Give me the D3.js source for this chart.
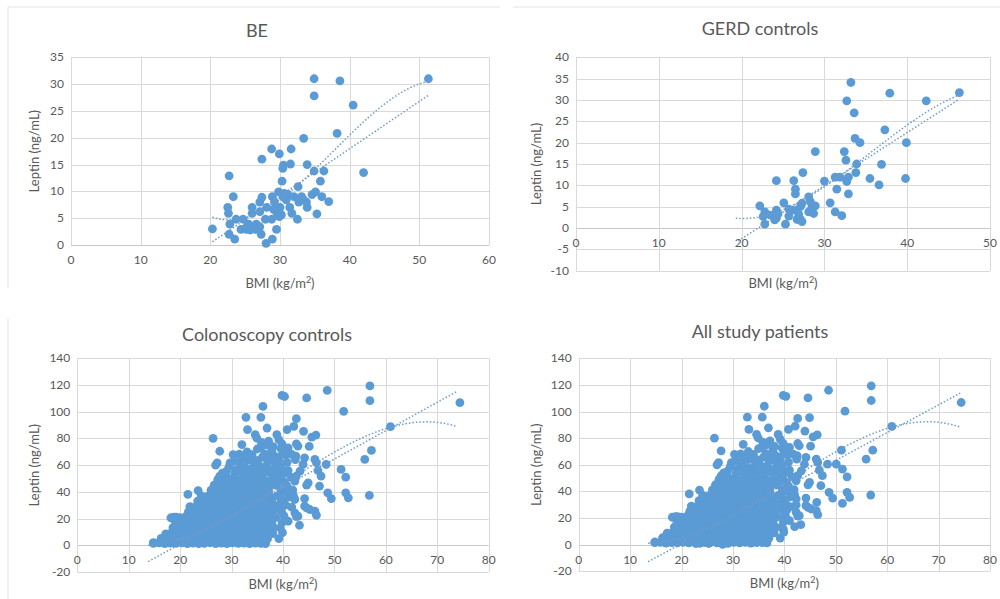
<!DOCTYPE html>
<html>
<head>
<meta charset="utf-8">
<script src="https://cdn.jsdelivr.net/npm/d3@7"></script>
<style>
  body { margin: 0; background: #fff; }
  svg text { font-family: Lato, "Open Sans", sans-serif; fill: #595959; }
</style>
</head>
<body>
<svg id="chart" width="1000" height="599"></svg>
<script>
// tick labels
var beXTicks = [0, 10, 20, 30, 40, 50, 60],
    beYTicks = [0, 5, 10, 15, 20, 25, 30, 35],
    gerdXTicks = [0, 10, 20, 30, 40, 50],
    gerdYTicks = [-10, -5, 0, 5, 10, 15, 20, 25, 30, 35, 40],
    bigXTicks = [0, 10, 20, 30, 40, 50, 60, 70, 80],
    bigYTicks = [-20, 0, 20, 40, 60, 80, 100, 120, 140];

// [BMI, leptin]
var beData = [[20.3,3.0],[22.7,12.9],[22.5,7.0],[22.6,5.9],[22.8,3.9],[22.7,2.0],[23.3,9.0],[23.5,1.1],[23.7,4.8],
  [24.7,4.8],[24.4,2.9],[25.2,2.9],[25.5,3.9],[25.7,2.8],[26.0,7.0],[26.0,5.9],[26.2,3.4],[26.6,3.9],[27.1,3.4],
  [27.1,6.2],[27.3,2.0],[27.4,16.0],[27.4,8.9],[27.1,8.0],[28.0,0.3],[27.9,4.8],[28.1,7.0],[28.8,17.9],[28.9,9.0],
  [28.8,4.8],[28.9,1.1],[29.2,8.0],[29.5,2.9],[29.5,6.4],[29.6,5.9],[29.8,9.9],[29.9,17.0],[29.9,5.3],[30.0,7.0],
  [30.3,11.9],[30.4,9.0],[30.4,14.3],[30.5,14.9],[30.7,8.9],[30.9,8.4],[31.1,9.5],[31.4,7.0],[31.5,15.1],[31.6,17.9],
  [31.7,5.9],[32.0,9.0],[32.5,4.8],[32.6,10.9],[32.7,8.0],[33.1,9.0],[33.4,19.9],[33.4,8.4],[33.8,8.0],[33.9,7.0],
  [33.9,15.0],[34.6,9.4],[34.9,31.0],[34.9,27.8],[34.9,13.8],[35.1,9.9],[35.3,5.8],[35.8,11.9],[36.0,9.0],[36.3,13.8],
  [37.0,8.1],[38.2,20.8],[38.6,30.6],[40.5,26.1],[42.0,13.5],[51.3,31.0],[30.6,9.6],[31.0,9.2],[29.9,6.0],[30.2,5.6],
  [25.0,3.0],[25.8,3.2],[26.3,3.0],[29.1,6.6],[25.3,3.5],[26.5,2.9]];

var gerdData = [[22.2,5.2],[22.8,3.8],[22.6,2.7],[22.8,0.9],[24.2,11.1],[24.2,4.2],[24.4,3.3],[24.2,2.3],[24.0,1.9],
  [25.1,5.9],[25.3,0.9],[25.7,2.8],[26.3,11.1],[26.5,9.1],[26.5,8.0],[26.1,4.2],[26.7,4.2],[27.1,5.0],[27.3,5.8],
  [26.7,2.0],[27.1,2.0],[27.3,1.5],[25.7,4.4],[27.4,13.0],[28.1,7.3],[28.3,6.2],[28.5,5.0],[28.1,3.8],[28.7,3.4],
  [28.9,5.2],[28.9,17.9],[30.0,11.0],[30.7,5.9],[31.3,11.9],[31.5,9.1],[31.3,3.8],[31.9,11.9],[32.1,2.9],[32.4,17.9],
  [32.6,15.9],[32.7,10.9],[32.9,11.9],[32.9,8.0],[32.7,29.8],[33.2,34.1],[33.6,27.0],[33.7,21.0],[34.3,20.0],
  [33.9,15.0],[33.8,13.0],[35.5,11.6],[36.9,14.9],[36.6,10.1],[37.3,23.0],[37.9,31.6],[39.9,20.0],[39.8,11.6],
  [42.3,29.8],[46.3,31.7],[23.5,3.0],[26.9,3.2]];

// colonoscopy controls: scattered points
var colonoOutliers = [[56.9,119.3],[56.9,108.3],[48.6,116],[44.6,110.3],[39.8,112.2],[40.3,111.4],[36.1,104],
  [32.8,95.8],[35.7,95.8],[42.6,94.8],[51.8,100.3],[60.9,88.8],[74.4,106.8],[33.1,86.6],[36.9,87.8],[40.8,86.6],
  [42.1,89],[44.0,85.3],[26.4,80],[34.6,82.8],[34.9,80.3],[38.8,82.8],[39.2,79.1],[45.6,81],[46.4,82.5],[32.0,75.4],
  [35.6,72.9],[38.1,73.9],[42.6,76],[42.9,74.3],[45.1,74],[27.7,70.4],[30.3,67.9],[37.2,67.9],[38.2,66.7],[41.7,68],
  [42.5,66.8],[44.2,65.5],[42.4,64.2],[33.6,64.2],[57.2,71],[55.9,64.3],[43.9,60.5],[46.2,64.3],[46.5,61.8],
  [48.4,60.5],[27.2,61.7],[26.9,60],[29.7,61.7],[31.6,61.7],[43.3,55.5],[46.8,56],[47.4,51.8],[51.3,56.8],[52.2,51],
  [42.6,51.8],[42.3,48],[44.9,46.8],[44.6,45],[47.1,44.3],[48.7,39.3],[49.4,35],[52.2,39.3],[52.7,35.5],[56.8,37.3],
  [42,37.5],[42.3,34.3],[44.2,35],[44.2,29.3],[45.2,26.8],[46.2,25.5],[46.5,22.5],[44.6,28],[42.3,24.3],[42.9,21.8],
  [43.2,15],[41.7,28.5],[39.9,9.5],[36.6,2],[14.8,2],[21.5,38.1],[23.5,41],[18.2,20.6],[19.2,21.1],[27.7,51.7],
  [29.0,55.5],[41.9,41.4],[40.4,40.2],[42.6,21.5],[40.5,30],[41.0,18],[40.0,48],[39.5,58],[41.0,56],[38.5,62],
  [40.0,70],[36.5,75],[38.8,45],[39.6,35]];

// colonoscopy controls: the dense cloud
var colonoCloud = [
  [14.8,1.5],[15.9,1.8],[17.0,1.2],[18.1,1.6],[19.2,1.4],[20.3,1.8],[21.4,1.3],[22.5,1.7],[23.6,1.2],[24.7,1.5],
  [25.8,1.9],[26.9,1.3],[28.0,1.6],[29.1,1.2],[30.2,1.8],[31.3,1.4],[32.4,1.7],[33.5,1.2],[34.6,1.6],[35.7,1.5],[36.6,1.3],
  [16.3,5.2],[17.4,4.8],[18.5,5.5],[19.6,4.9],[20.7,5.3],[21.8,4.7],[22.9,5.4],[24.0,5.0],[25.1,5.6],[26.2,4.8],
  [27.3,5.3],[28.4,5.1],[29.5,4.7],[30.6,5.5],[31.7,5.0],[32.8,5.3],[33.9,4.8],[35.0,5.4],[36.1,5.1],[37.0,4.9],
  [17.2,8.6],[18.3,9.3],[19.4,8.8],[20.5,9.1],[21.6,8.5],[22.7,9.4],[23.8,8.9],[24.9,9.2],[26.0,8.7],[27.1,9.5],
  [28.2,8.8],[29.3,9.0],[30.4,9.4],[31.5,8.6],[32.6,9.2],[33.7,8.9],[34.8,9.3],[35.9,8.7],[37.0,9.1],[38.0,8.8],
  [18.6,13.2],[19.7,12.7],[20.8,13.4],[21.9,12.9],[23.0,13.1],[24.1,12.6],[25.2,13.5],[26.3,13.0],[27.4,12.8],
  [28.5,13.3],[29.6,12.9],[30.7,13.4],[31.8,12.7],[32.9,13.2],[34.0,13.0],[35.1,12.6],[36.2,13.3],[37.3,12.9],[38.3,13.1],
  [19.1,17.3],[20.2,16.8],[21.3,17.2],[22.4,16.9],[23.5,17.4],[24.6,16.7],[25.7,17.1],[26.8,17.5],[27.9,16.8],
  [29.0,17.2],[30.1,16.9],[31.2,17.3],[32.3,17.0],[33.4,16.6],[34.5,17.4],[35.6,17.0],[36.7,16.8],[37.8,17.2],
  [18.8,21.0],[19.9,20.6],[21.0,21.3],[22.1,20.8],[23.2,21.2],[24.3,20.7],[25.4,21.1],[26.5,21.4],[27.6,20.9],
  [28.7,21.0],[29.8,20.6],[30.9,21.3],[32.0,20.8],[33.1,21.2],[34.2,20.9],[35.3,21.1],[36.4,20.7],[37.5,21.2],[38.6,20.9],
  [21.6,25.1],[22.7,24.7],[23.8,25.3],[24.9,24.9],[26.0,25.2],[27.1,24.6],[28.2,25.0],[29.3,25.4],[30.4,24.8],
  [31.5,25.1],[32.6,24.7],[33.7,25.3],[34.8,25.0],[35.9,24.8],[37.0,25.2],[38.1,24.9],
  [21.9,29.0],[23.0,28.7],[24.1,29.3],[25.2,28.9],[26.3,29.1],[27.4,28.6],[28.5,29.2],[29.6,29.0],[30.7,28.8],
  [31.8,29.3],[32.9,28.9],[34.0,29.1],[35.1,28.7],[36.2,29.2],[37.3,29.0],[38.6,28.8],
  [23.4,33.1],[24.5,32.7],[25.6,33.2],[26.7,32.9],[27.8,33.3],[28.9,32.8],[30.0,33.0],[31.1,33.4],[32.2,32.8],
  [33.3,33.1],[34.4,32.9],[35.5,33.2],[36.6,32.7],[37.8,33.0],
  [24.1,37.0],[25.3,36.6],[26.4,37.2],[27.5,36.9],[28.6,37.3],[29.7,36.8],[30.8,37.1],[31.9,36.7],[33.0,37.2],
  [34.1,37.0],[35.2,36.8],[36.3,37.3],[37.5,36.9],
  [26.0,41.2],[27.1,40.8],[28.2,41.1],[29.3,40.7],[30.4,41.3],[31.5,40.9],[32.6,41.0],[33.7,40.6],[34.8,41.2],
  [35.9,40.9],[37.2,41.1],
  [26.6,45.0],[27.8,44.6],[28.9,45.3],[30.1,44.8],[31.2,45.1],[32.3,44.7],[33.5,45.2],[34.6,44.9],[35.8,45.0],
  [37.0,44.7],[38.3,45.2],
  [27.3,49.1],[28.5,48.7],[30.0,49.3],[31.4,48.9],[32.7,49.0],[33.9,48.6],[35.2,49.2],[36.4,48.8],[37.8,49.1],[39.0,48.9],
  [28.2,54.0],[30.6,53.6],[32.1,54.2],[33.6,53.8],[34.7,54.1],[35.9,53.7],[37.4,54.3],[38.7,53.9],[40.2,54.0],
  [29.5,58.8],[31.9,59.2],[34.2,58.9],[35.5,59.3],[36.8,58.7],[38.5,59.1],[39.6,58.8],
  [33.0,64.0],[35.1,63.6],[37.6,64.2],[39.2,63.8],
  [31.5,68.2],[34.0,67.8],[36.4,68.3],[38.0,68.0],[40.5,67.7],
  [35.0,72.1],[37.8,71.8],[39.6,72.3],
  [39.2,5.0],[39.5,13.0],[39.8,17.0],[40.2,22.0],[39.7,25.5],[40.0,33.5],[41.2,36.0],[40.8,44.0],[39.6,41.0],
  [38.9,37.0],[39.4,31.0],[30.5,63.0],[32.0,65.5],[34.5,61.0],[36.0,66.0],[37.0,62.5],[39.0,66.0],[33.0,70.0],
  [35.8,77.0],[37.2,78.0],[39.8,76.0],[41.0,73.0],[36.3,58.0],[32.8,58.0],[30.8,56.5],[29.3,50.0],[33.0,52.0],
  [36.0,51.0],[38.0,56.0],[40.8,62.0],[41.5,51.0],[40.5,46.0],[39.0,52.0]];

// points seen only in the all-patients panel
var allExtra = [[51.1,71.0],[50.1,60.5],[44.9,95.5]];

// trendline readings: linear end points and points on the polynomial fit
var beLinear = [[20.3,0.6],[51.4,28.0]],
    bePoly = [[20.3,5.2],[30,8.5],[40,20.5],[51.3,30.5]],
    gerdLinear = [[19.6,-3.0],[46.3,30.2]],
    gerdPoly = [[19.3,2.3],[21.5,2.4],[35,16.8],[46.3,31.2]],
    colonoLinear = [[13.8,-12.2],[73.9,115.3]],
    colonoPoly = [[13.8,0],[43.3,54],[61,88.5],[73.8,89]],
    allLinear = [[13.5,-12.8],[74.2,113.8]],
    allPoly = [[13.5,1],[43.3,54],[61,88.5],[74.3,88.2]];

var colonoData = colonoCloud.concat(colonoOutliers);
var allData = colonoData.concat(beData, gerdData, allExtra);

var svg = d3.select("#chart");
var blue = "#5b9bd5";

// faint chart-area borders
var borders = [[8,7,500,7],[8,7,8,288],[513,7,1000,7],[8,318,8,599]];
svg.selectAll("line.border").data(borders).enter().append("line")
  .attr("class", "border")
  .attr("x1", function(d) { return d[0]; }).attr("y1", function(d) { return d[1]; })
  .attr("x2", function(d) { return d[2]; }).attr("y2", function(d) { return d[3]; })
  .attr("stroke", "#e3e3e3").attr("stroke-width", 1);

function lagrange(knots, x) {
  var s = 0;
  knots.forEach(function(ki, i) {
    var l = 1;
    knots.forEach(function(kj, j) { if (i !== j) l *= (x - kj[0]) / (ki[0] - kj[0]); });
    s += ki[1] * l;
  });
  return s;
}

function drawPanel(p) {
  var g = svg.append("g");
  var x = d3.scaleLinear().domain(p.xDomain).range([p.left, p.right]);
  var y = d3.scaleLinear().domain(p.yDomain).range([p.bottom, p.top]);

  // gridlines
  g.selectAll("line.hgrid").data(p.yTicks).enter().append("line")
    .attr("x1", p.left).attr("x2", p.right)
    .attr("y1", function(d) { return Math.round(y(d)) + 0.5; })
    .attr("y2", function(d) { return Math.round(y(d)) + 0.5; })
    .attr("stroke", function(d) { return d === 0 ? "#c9c9c9" : "#d9d9d9"; });
  g.selectAll("line.vgrid").data(p.xTicks).enter().append("line")
    .attr("y1", p.top).attr("y2", p.bottom)
    .attr("x1", function(d) { return Math.round(x(d)) + 0.5; })
    .attr("x2", function(d) { return Math.round(x(d)) + 0.5; })
    .attr("stroke", "#d9d9d9");

  // tick labels
  g.selectAll("text.yt").data(p.yTicks).enter().append("text")
    .attr("x", p.left - 7).attr("y", function(d) { return y(d) + 4; })
    .attr("text-anchor", "end").style("font-size", "12px")
    .text(function(d) { return d; });
  g.selectAll("text.xt").data(p.xTicks).enter().append("text")
    .attr("x", function(d) { return x(d); }).attr("y", y(0) + 19)
    .attr("text-anchor", "middle").style("font-size", "12px")
    .text(function(d) { return d; });

  // titles
  g.append("text").attr("x", p.titleX).attr("y", p.titleY)
    .attr("text-anchor", "middle").style("font-size", "18px").text(p.title);
  var xt = g.append("text").attr("x", (p.left + p.right) / 2).attr("y", p.xTitleY)
    .attr("text-anchor", "middle").style("font-size", "13px");
  xt.append("tspan").text("BMI (kg/m");
  xt.append("tspan").attr("dy", -5).style("font-size", "9px").text("2");
  xt.append("tspan").attr("dy", 5).text(")");
  g.append("text")
    .attr("transform", "translate(" + p.yTitleX + "," + ((p.top + p.bottom) / 2) + ") rotate(-90)")
    .attr("text-anchor", "middle").style("font-size", "13px").text("Leptin (ng/mL)");

  // points
  g.selectAll("circle").data(p.data).enter().append("circle")
    .attr("cx", function(d) { return x(d[0]); })
    .attr("cy", function(d) { return y(d[1]); })
    .attr("r", 4.4)
    .attr("fill", blue);

  // trendlines
  var line = d3.line().x(function(d) { return x(d[0]); }).y(function(d) { return y(d[1]); });
  var x0 = p.poly[0][0], x1 = p.poly[p.poly.length - 1][0];
  var curve = d3.range(0, 81).map(function(i) {
    var xv = x0 + (x1 - x0) * i / 80;
    return [xv, lagrange(p.poly, xv)];
  });
  [p.linear, curve].forEach(function(pts) {
    g.append("path").attr("d", line(pts))
      .attr("fill", "none").attr("stroke", "#6f9bcb")
      .attr("stroke-width", 1.5).attr("stroke-dasharray", "1.5,2");
  });
}

drawPanel({ title: "BE", titleX: 257, titleY: 37, xTitleY: 288, yTitleX: 39,
  left: 71, right: 489, top: 57.3, bottom: 245, xDomain: [0, 60], yDomain: [0, 35],
  xTicks: beXTicks, yTicks: beYTicks, data: beData, linear: beLinear, poly: bePoly });
drawPanel({ title: "GERD controls", titleX: 760, titleY: 35, xTitleY: 288, yTitleX: 541,
  left: 576, right: 990, top: 57.3, bottom: 270.7, xDomain: [0, 50], yDomain: [-10, 40],
  xTicks: gerdXTicks, yTicks: gerdYTicks, data: gerdData, linear: gerdLinear, poly: gerdPoly });
drawPanel({ title: "Colonoscopy controls", titleX: 267, titleY: 341, xTitleY: 589, yTitleX: 39,
  left: 77.3, right: 488.7, top: 358.3, bottom: 572, xDomain: [0, 80], yDomain: [-20, 140],
  xTicks: bigXTicks, yTicks: bigYTicks, data: colonoData, linear: colonoLinear, poly: colonoPoly });
drawPanel({ title: "All study patients", titleX: 760, titleY: 338, xTitleY: 588, yTitleX: 541,
  left: 578.7, right: 990, top: 358.3, bottom: 571.3, xDomain: [0, 80], yDomain: [-20, 140],
  xTicks: bigXTicks, yTicks: bigYTicks, data: allData, linear: allLinear, poly: allPoly });
</script>
</body>
</html>
